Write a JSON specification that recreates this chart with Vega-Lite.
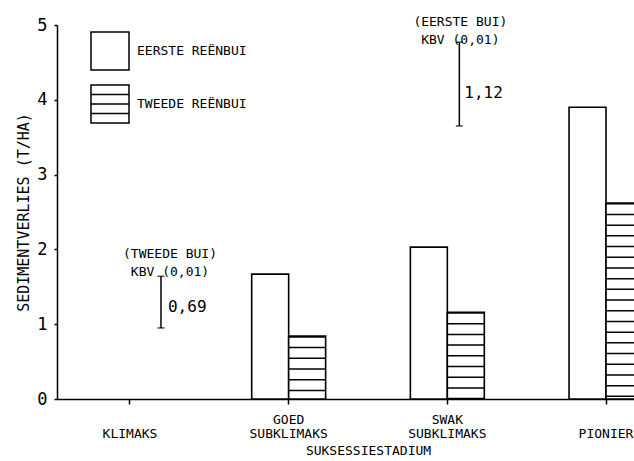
{
  "$schema": "https://vega.github.io/schema/vega-lite/v6.json",
  "autosize": "none",
  "width": 622,
  "height": 374,
  "padding": {"left": 57, "top": 25, "right": -45, "bottom": 62},
  "background": "white",
  "config": {
    "view": {"stroke": null},
    "font": "DejaVu Sans Mono",
    "axis": {
      "grid": false,
      "domainColor": "black",
      "domainWidth": 1.5,
      "tickColor": "black",
      "tickWidth": 1.5,
      "labelColor": "black",
      "titleColor": "black",
      "labelFont": "DejaVu Sans Mono",
      "titleFont": "DejaVu Sans Mono",
      "titleFontWeight": "normal"
    },
    "text": {"font": "DejaVu Sans Mono", "color": "black"}
  },
  "data": {
    "values": [
      {"stadium": "GOED SUBKLIMAKS", "serie": "EERSTE REËNBUI", "waarde": 1.67},
      {"stadium": "GOED SUBKLIMAKS", "serie": "TWEEDE REËNBUI", "waarde": 0.84},
      {"stadium": "SWAK SUBKLIMAKS", "serie": "EERSTE REËNBUI", "waarde": 2.03},
      {"stadium": "SWAK SUBKLIMAKS", "serie": "TWEEDE REËNBUI", "waarde": 1.16},
      {"stadium": "PIONIER", "serie": "EERSTE REËNBUI", "waarde": 3.9},
      {"stadium": "PIONIER", "serie": "TWEEDE REËNBUI", "waarde": 2.62}
    ]
  },
  "encoding": {
    "x": {
      "field": "stadium",
      "type": "nominal",
      "title": "SUKSESSIESTADIUM",
      "scale": {
        "domain": ["KLIMAKS", "GOED SUBKLIMAKS", "SWAK SUBKLIMAKS", "PIONIER"],
        "paddingInner": 0.534,
        "paddingOuter": 0.227
      },
      "axis": {
        "labelExpr": "indexof(datum.label, ' ') > 0 ? split(datum.label, ' ') : ['', datum.label]",
        "labelAngle": 0,
        "labelAlign": "center",
        "labelBaseline": "top",
        "labelFontSize": 13,
        "labelLineHeight": 14,
        "labelPadding": 9,
        "tickSize": 5,
        "titleFontSize": 13,
        "titlePadding": 4
      }
    }
  },
  "layer": [
    {
      "mark": {"type": "bar", "stroke": "black", "strokeWidth": 1.6},
      "encoding": {
        "xOffset": {
          "field": "serie",
          "type": "nominal",
          "scale": {"domain": ["EERSTE REËNBUI", "TWEEDE REËNBUI"], "paddingInner": 0, "paddingOuter": 0}
        },
        "y": {
          "field": "waarde",
          "type": "quantitative",
          "title": "SEDIMENTVERLIES (T/HA)",
          "scale": {"domain": [0, 5], "nice": false},
          "axis": {
            "values": [0, 1, 2, 3, 4, 5],
            "format": "d",
            "labelFontSize": 17,
            "tickSize": 3,
            "labelPadding": 7,
            "titleFontSize": 15,
            "titlePadding": 5
          }
        },
        "color": {
          "field": "serie",
          "type": "nominal",
          "scale": {"domain": ["EERSTE REËNBUI", "TWEEDE REËNBUI"], "range": ["white", "white"]},
          "legend": {
            "orient": "none",
            "legendX": 33,
            "legendY": 6,
            "title": null,
            "padding": 0,
            "symbolSize": 1444,
            "symbolType": "square",
            "symbolStrokeColor": "black",
            "symbolStrokeWidth": 1.5,
            "labelFont": "DejaVu Sans Mono",
            "labelFontSize": 13,
            "labelColor": "black",
            "labelOffset": 7,
            "rowPadding": 9,
            "encode": {
              "symbols": {
                "update": {
                  "shape": [
                    {"test": "datum.value === 'TWEEDE REËNBUI'", "value": "M-1,-1H1V1H-1Z M-1,-0.5H1 M-1,0H1 M-1,0.5H1"},
                    {"value": "square"}
                  ],
                  "fill": {"value": "white"},
                  "stroke": {"value": "black"},
                  "strokeWidth": {"value": 1.5},
                  "opacity": {"value": 1}
                }
              }
            }
          }
        }
      }
    },
    {
      "transform": [{"filter": "datum.serie === 'TWEEDE REËNBUI'"}],
      "mark": {"type": "rule", "color": "black", "strokeWidth": 37, "strokeDash": [1.5, 9.2], "strokeCap": "butt"},
      "encoding": {
        "xOffset": {
          "field": "serie",
          "type": "nominal",
          "scale": {"domain": ["EERSTE REËNBUI", "TWEEDE REËNBUI"], "paddingInner": 0, "paddingOuter": 0}
        },
        "y": {"field": "waarde", "type": "quantitative", "title": "SEDIMENTVERLIES (T/HA)"},
        "y2": {"datum": 0}
      }
    },
    {
      "data": {
        "values": [
          {"stadium": "KLIMAKS", "onder": 0.95, "bo": 1.64, "kop": ["(TWEEDE BUI)", "KBV (0,01)"], "kbv": "0,69"}
        ]
      },
      "layer": [
        {
          "mark": {"type": "rule", "color": "black", "strokeWidth": 1.5, "xOffset": 31},
          "encoding": {
            "y": {"field": "onder", "type": "quantitative", "title": "SEDIMENTVERLIES (T/HA)"},
            "y2": {"field": "bo"}
          }
        },
        {
          "mark": {"type": "tick", "color": "black", "size": 7, "thickness": 1.5, "xOffset": 31},
          "encoding": {"y": {"field": "onder", "type": "quantitative", "title": "SEDIMENTVERLIES (T/HA)"}}
        },
        {
          "mark": {"type": "tick", "color": "black", "size": 7, "thickness": 1.5, "xOffset": 31},
          "encoding": {"y": {"field": "bo", "type": "quantitative", "title": "SEDIMENTVERLIES (T/HA)"}}
        },
        {
          "mark": {"type": "text", "align": "center", "baseline": "bottom", "lineHeight": 18, "fontSize": 13, "xOffset": 40, "dy": -15},
          "encoding": {
            "y": {"field": "bo", "type": "quantitative", "title": "SEDIMENTVERLIES (T/HA)"},
            "text": {"field": "kop"}
          }
        },
        {
          "mark": {"type": "text", "align": "left", "baseline": "middle", "fontSize": 16, "xOffset": 38, "dy": -21},
          "encoding": {
            "y": {"field": "onder", "type": "quantitative", "title": "SEDIMENTVERLIES (T/HA)"},
            "text": {"field": "kbv"}
          }
        }
      ]
    },
    {
      "data": {
        "values": [
          {"stadium": "SWAK SUBKLIMAKS", "onder": 3.65, "bo": 4.77, "kop": ["(EERSTE BUI)", "KBV (0,01)"], "kbv": "1,12"}
        ]
      },
      "layer": [
        {
          "mark": {"type": "rule", "color": "black", "strokeWidth": 1.5, "xOffset": 12},
          "encoding": {
            "y": {"field": "onder", "type": "quantitative", "title": "SEDIMENTVERLIES (T/HA)"},
            "y2": {"field": "bo"}
          }
        },
        {
          "mark": {"type": "tick", "color": "black", "size": 7, "thickness": 1.5, "xOffset": 12},
          "encoding": {"y": {"field": "onder", "type": "quantitative", "title": "SEDIMENTVERLIES (T/HA)"}}
        },
        {
          "mark": {"type": "tick", "color": "black", "size": 7, "thickness": 1.5, "xOffset": 12},
          "encoding": {"y": {"field": "bo", "type": "quantitative", "title": "SEDIMENTVERLIES (T/HA)"}}
        },
        {
          "mark": {"type": "text", "align": "center", "baseline": "bottom", "lineHeight": 18, "fontSize": 13, "xOffset": 13, "dy": -13},
          "encoding": {
            "y": {"field": "bo", "type": "quantitative", "title": "SEDIMENTVERLIES (T/HA)"},
            "text": {"field": "kop"}
          }
        },
        {
          "mark": {"type": "text", "align": "left", "baseline": "middle", "fontSize": 16, "xOffset": 17, "dy": -33},
          "encoding": {
            "y": {"field": "onder", "type": "quantitative", "title": "SEDIMENTVERLIES (T/HA)"},
            "text": {"field": "kbv"}
          }
        }
      ]
    }
  ]
}
